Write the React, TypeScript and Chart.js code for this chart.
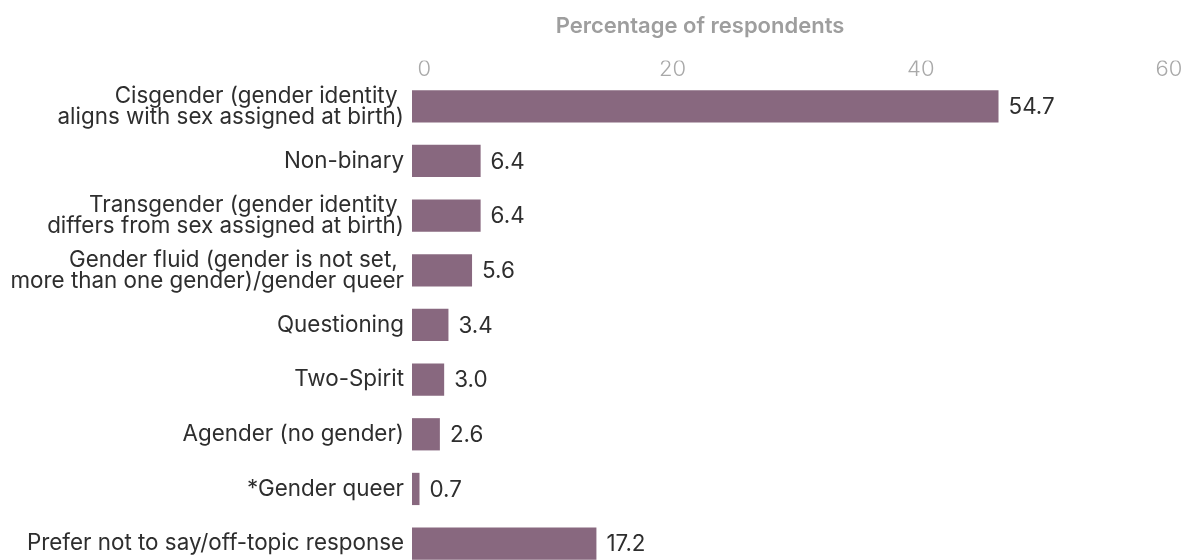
import React, { useEffect, useRef } from "react";
import { Chart, registerables } from "chart.js";

Chart.register(...registerables);

const categories: (string | string[])[] = [
  ["Cisgender (gender identity ", "aligns with sex assigned at birth)"],
  "Non-binary",
  ["Transgender (gender identity ", "differs from sex assigned at birth)"],
  ["Gender fluid (gender is not set, ", "more than one gender)/gender queer"],
  "Questioning",
  "Two-Spirit",
  "Agender (no gender)",
  "*Gender queer",
  "Prefer not to say/off-topic response",
];

const values: number[] = [54.7, 6.4, 6.4, 5.6, 3.4, 3.0, 2.6, 0.7, 17.2];

const tickValues: number[] = [0, 20, 40, 60];

const axisTitle = "Percentage of respondents";

const FONT = 'Inter, "Open Sans", sans-serif';
const BAR_COLOR = "#88687f";
const TEXT_COLOR = "#2e2e2e";
const LABEL_SIZE = 22.4;

const valueLabelPlugin = {
  id: "valueLabels",
  afterDatasetsDraw(chart: any) {
    const { ctx } = chart;
    const meta = chart.getDatasetMeta(0);
    ctx.save();
    ctx.font = `${LABEL_SIZE}px ${FONT}`;
    ctx.fillStyle = TEXT_COLOR;
    ctx.textAlign = "left";
    ctx.textBaseline = "middle";
    meta.data.forEach((bar: any, i: number) => {
      ctx.fillText(values[i].toFixed(1), bar.x + 10, bar.y + 1);
    });
    ctx.restore();
  },
};

const titlePlugin = {
  id: "topTitle",
  afterDraw(chart: any) {
    const { ctx } = chart;
    ctx.save();
    ctx.font = `600 22px ${FONT}`;
    ctx.fillStyle = "#9e9e9e";
    ctx.textAlign = "center";
    ctx.textBaseline = "middle";
    ctx.fillText(axisTitle, 700, 26);
    ctx.restore();
  },
};

export default function App() {
  const canvasRef = useRef<HTMLCanvasElement | null>(null);

  useEffect(() => {
    if (!canvasRef.current) return;
    const chart = new Chart(canvasRef.current, {
      type: "bar",
      data: {
        labels: categories,
        datasets: [
          {
            data: values,
            backgroundColor: BAR_COLOR,
            borderWidth: 0,
            categoryPercentage: 1,
            barPercentage: 0.59,
            xAxisID: "x",
            yAxisID: "y",
          },
        ],
      },
      options: {
        indexAxis: "y",
        animation: false,
        responsive: false,
        layout: { padding: { top: 60.6, bottom: 16, right: 12, left: 0 } },
        plugins: {
          legend: { display: false },
          tooltip: { enabled: false },
          title: { display: false },
        },
        scales: {
          x: {
            type: "linear",
            display: false,
            min: 0,
            max: 70.6,
          },
          x2: {
            type: "linear",
            position: "top",
            min: -1.0,
            max: 60,
            grid: { display: false, drawTicks: false },
            border: { display: false },
            afterBuildTicks: (scale: any) => {
              scale.ticks = tickValues.map((v) => ({ value: v }));
            },
            afterFit: (scale: any) => {
              scale.paddingLeft = 0;
              scale.paddingRight = 0;
            },
            ticks: {
              padding: -4,
              color: "#a9a9a9",
              font: { family: FONT, size: 22, weight: "300" as any, lineHeight: 1.2 },
              callback: (v: any) => String(v),
            },
          },
          y: {
            type: "category",
            grid: { display: false, drawTicks: false },
            border: { display: false },
            afterFit: (scale: any) => {
              scale.width = 412;
            },
            ticks: {
              padding: 8,
              color: TEXT_COLOR,
              font: { family: FONT, size: LABEL_SIZE, lineHeight: 0.94 },
            },
          },
        },
      },
      plugins: [valueLabelPlugin, titlePlugin],
    });
    return () => chart.destroy();
  }, []);

  return (
    <div
      style={{
        position: "fixed",
        left: 0,
        top: 0,
        width: 1181,
        height: 560,
        overflow: "hidden",
        background: "#fff",
      }}
    >
      <canvas ref={canvasRef} width={1181} height={600} style={{ display: "block" }} />
    </div>
  );
}
